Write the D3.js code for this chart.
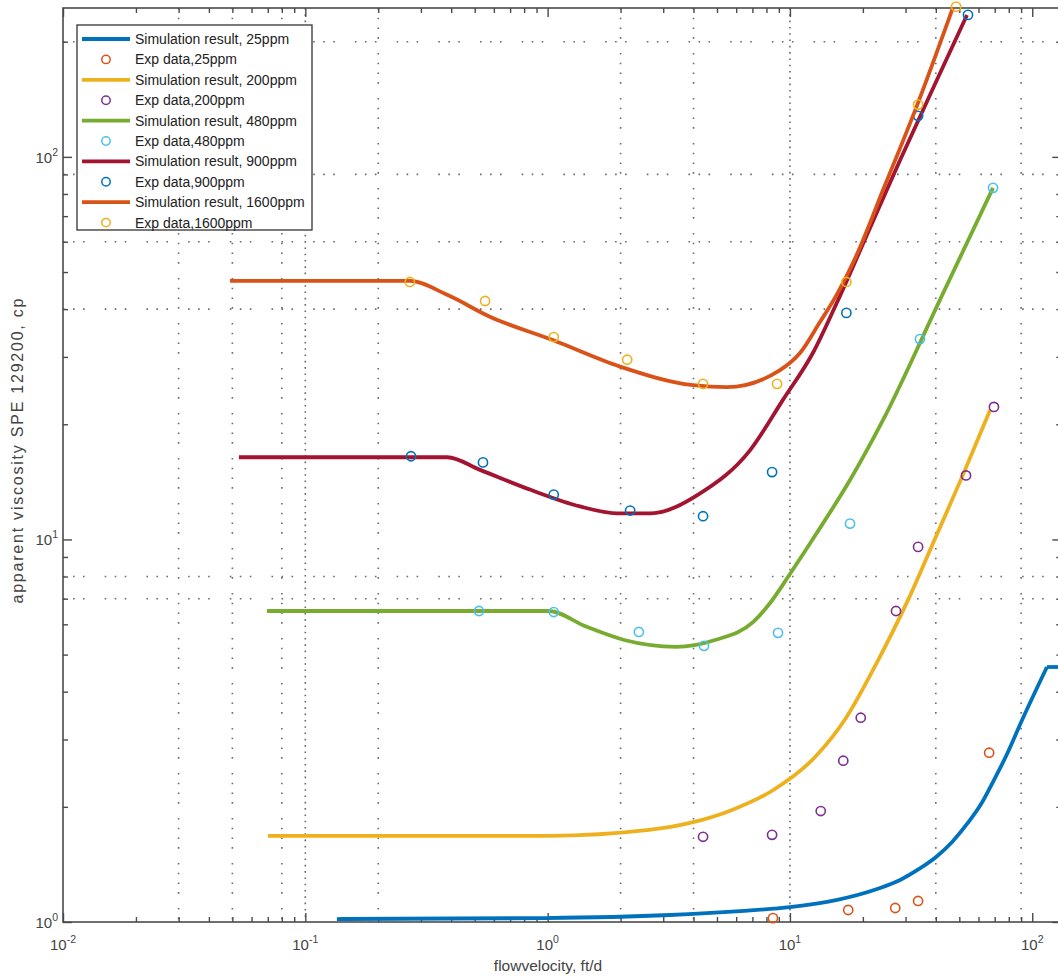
<!DOCTYPE html>
<html>
<head>
<meta charset="utf-8">
<script src="https://cdn.jsdelivr.net/npm/d3@7"></script>
<style>
  body { margin: 0; background: #fff; }
  svg text { font-family: "Liberation Sans", Arial, Helvetica, sans-serif; }
</style>
</head>
<body>
<svg id="chart" width="1058" height="980"></svg>
<script>
// ---- data: [flow velocity ft/d, apparent viscosity cp] ----
const sim25 = [[0.135,1.018],[0.975,1.024],[3.20,1.043],[6.22,1.068],[10,1.094],[15.5,1.141],[22.9,1.220],[28.5,1.288],[34.1,1.376],[40.1,1.479],[46.7,1.619],[53.8,1.804],[61.5,2.034],[69.5,2.350],[78.0,2.716],[90.8,3.373],[115,4.64]];
const sim25Plateau = [[115,4.64],[140,4.64]];
const exp25 = [[8.51,1.024],[17.4,1.075],[27.2,1.088],[33.8,1.135],[66.4,2.77]];

const sim200 = [[0.0701,1.68],[1.01,1.68],[2.62,1.74],[3.87,1.815],[5.77,1.963],[8.51,2.21],[12.7,2.70],[17.0,3.41],[22.9,4.78],[30.7,6.94],[39.0,9.79],[52.8,15.2],[67.0,21.8]];
const exp200 = [[4.38,1.67],[8.44,1.69],[13.4,1.95],[16.6,2.64],[19.6,3.42],[27.4,6.50],[33.8,9.56],[53.3,14.7],[69.5,22.2]];

const sim480 = [[0.0695,6.50],[1.01,6.50],[1.45,5.91],[2.07,5.46],[3.39,5.24],[4.91,5.46],[7.04,6.08],[8.28,6.82],[10.0,8.12],[12.9,10.39],[17.7,14.3],[24.2,20.5],[41.6,42.3],[68.9,83.0]];
const exp480 = [[0.521,6.50],[1.06,6.46],[2.38,5.73],[4.42,5.27],[8.93,5.70],[17.7,11.0],[34.4,33.4],[68.9,83.0]];

const sim900 = [[0.0532,16.4],[0.385,16.4],[0.526,15.2],[0.845,13.5],[1.36,12.2],[1.93,11.7],[2.65,11.7],[4.26,13.2],[6.84,17.1],[9.37,23.2],[12.5,30.9],[15.6,41.5],[21.4,65.2],[28.5,98.1],[39.7,155],[53.8,235]];
const exp900 = [[0.273,16.5],[0.541,15.9],[1.06,13.1],[2.19,11.9],[4.38,11.5],[8.44,15.0],[17.1,39.1],[33.8,128],[54.3,235]];

const sim1600 = [[0.0489,47.4],[0.270,47.4],[0.385,43.6],[0.578,38.2],[1.05,33.2],[1.99,28.3],[3.98,25.3],[5.50,25.0],[9.10,27.7],[11.0,30.7],[13.3,37.0],[15.4,43.0],[18.6,54.4],[24.5,83.4],[33.5,136.6],[47.1,246]];
const exp1600 = [[0.270,47.1],[0.552,42.0],[1.06,33.8],[2.13,29.5],[4.38,25.5],[8.85,25.5],[17.1,47.1],[33.8,137],[48.5,247]];

const concentrations = ["25ppm","200ppm","480ppm","900ppm","1600ppm"];
const lineColors   = ["#0072BD","#EDB120","#77AC30","#A2142F","#D95319"];
const markerColors = ["#D95319","#7E2F8E","#4DBEEE","#0072BD","#EDB120"];

// axis ticks and grid
const xDomain = [0.01, 131.8];
const yDomain = [1, 245];
const xMajorTicks = [0.01, 0.1, 1, 10, 100];
const xTickExponents = ["-2", "-1", "0", "1", "2"];
const yMajorTicks = [1, 10, 100];
const yTickExponents = ["0", "1", "2"];
const gridX = [0.03, 0.05, 0.08, 0.1, 0.2, 2, 4, 10, 40, 90];
const gridXDense = [0.1, 10];
const gridY = [7, 8, 40, 60, 90, 200];

const xTitle = "flowvelocity, ft/d";
const yTitle = "apparent viscosity SPE 129200, cp";

// ---- layout ----
const svg = d3.select("#chart");
const box = { left: 63, right: 1061.3, top: 8, bottom: 922 };
const x = d3.scaleLog().domain(xDomain).range([box.left, box.right]);
const y = d3.scaleLog().domain(yDomain).range([box.bottom, box.top]);
const axisColor = "#4a4a4a";

svg.append("rect").attr("width", 1058).attr("height", 980).attr("fill", "#fff");

// dotted grid
const grid = svg.append("g");
grid.selectAll("line.gx").data(gridX).join("line")
  .attr("class", "gx")
  .attr("x1", d => x(d)).attr("x2", d => x(d))
  .attr("y1", box.top).attr("y2", box.bottom)
  .attr("stroke", "#6a6a6a").attr("stroke-width", 1.6)
  .attr("stroke-dasharray", d => gridXDense.includes(d) ? "1.6 4.7" : "1.6 8.1 1.6 8.1 1.6 8.1 1.6 14.3");
grid.selectAll("line.gy").data(gridY).join("line")
  .attr("class", "gy")
  .attr("y1", d => y(d)).attr("y2", d => y(d))
  .attr("x1", box.left).attr("x2", box.right)
  .attr("stroke", "#6a6a6a").attr("stroke-width", 1.6)
  .attr("stroke-dasharray", "1.6 8.4 1.6 8.4 1.6 20.1");

// ticks on all four sides, pointing inward
const isDecade = v => Math.abs(Math.log10(v) - Math.round(Math.log10(v))) < 1e-9;
const xMinor = x.ticks().filter(v => !isDecade(v));
const yMinor = y.ticks().filter(v => !isDecade(v));

function drawTicks(axisGen, tr, values, size) {
  const g = svg.append("g").attr("transform", tr)
    .call(axisGen.tickValues(values).tickSize(-size).tickFormat(""));
  g.select(".domain").remove();
  g.selectAll(".tick line").attr("stroke", axisColor).attr("stroke-width", 1.4);
}
drawTicks(d3.axisBottom(x), `translate(0,${box.bottom})`, xMinor, 5);
drawTicks(d3.axisBottom(x), `translate(0,${box.bottom})`, xMajorTicks, 9);
drawTicks(d3.axisTop(x), `translate(0,${box.top})`, xMinor, 5);
drawTicks(d3.axisTop(x), `translate(0,${box.top})`, xMajorTicks, 9);
drawTicks(d3.axisLeft(y), `translate(${box.left},0)`, yMinor, 5);
drawTicks(d3.axisLeft(y), `translate(${box.left},0)`, yMajorTicks, 9);
drawTicks(d3.axisRight(y), `translate(${box.right},0)`, yMinor, 5);
drawTicks(d3.axisRight(y), `translate(${box.right},0)`, yMajorTicks, 9);

svg.append("rect")
  .attr("x", box.left).attr("y", box.top)
  .attr("width", box.right - box.left).attr("height", box.bottom - box.top)
  .attr("fill", "none").attr("stroke", axisColor).attr("stroke-width", 1.6);

// power-of-ten tick labels
const xl = svg.selectAll("text.xl").data(xMajorTicks).join("text")
  .attr("class", "xl")
  .attr("x", d => x(d)).attr("y", box.bottom + 28)
  .attr("text-anchor", "middle").attr("fill", "#444");
xl.append("tspan").attr("font-size", 15).text("10");
xl.append("tspan").attr("font-size", 10.5).attr("dy", -7).text((d, i) => xTickExponents[i]);

const yl = svg.selectAll("text.yl").data(yMajorTicks).join("text")
  .attr("class", "yl")
  .attr("x", box.left - 5).attr("y", d => y(d) + 6)
  .attr("text-anchor", "end").attr("fill", "#444");
yl.append("tspan").attr("font-size", 15).text("10");
yl.append("tspan").attr("font-size", 10.5).attr("dy", -7).text((d, i) => yTickExponents[i]);

// axis titles
svg.append("text")
  .attr("x", 548).attr("y", 971)
  .attr("text-anchor", "middle").attr("font-size", 15.5).attr("fill", "#444")
  .text(xTitle);
svg.append("text")
  .attr("transform", "translate(23,451) rotate(-90)")
  .attr("text-anchor", "middle").attr("font-size", 16).attr("fill", "#444")
  .attr("textLength", 305).attr("lengthAdjust", "spacing")
  .text(yTitle);

// ---- series ----
const series = [
  { conc: 0, sim: sim25, exp: exp25, plateau: sim25Plateau },
  { conc: 1, sim: sim200, exp: exp200 },
  { conc: 2, sim: sim480, exp: exp480 },
  { conc: 3, sim: sim900, exp: exp900 },
  { conc: 4, sim: sim1600, exp: exp1600 }
];

const curve = d3.line().x(d => x(d[0])).y(d => y(d[1])).curve(d3.curveMonotoneX);
const straight = d3.line().x(d => x(d[0])).y(d => y(d[1]));

const plotG = svg.append("g");
series.forEach(s => {
  const lc = lineColors[s.conc], mc = markerColors[s.conc];
  plotG.append("path").attr("d", curve(s.sim))
    .attr("fill", "none").attr("stroke", lc).attr("stroke-width", 3.8)
    .attr("stroke-linejoin", "round");
  if (s.plateau) {
    plotG.append("path").attr("d", straight(s.plateau))
      .attr("fill", "none").attr("stroke", lc).attr("stroke-width", 3.8);
  }
  plotG.selectAll(null).data(s.exp).join("circle")
    .attr("cx", d => x(d[0])).attr("cy", d => y(d[1])).attr("r", 4.6)
    .attr("fill", "none").attr("stroke", mc).attr("stroke-width", 1.6);
});

// ---- legend ----
const lg = svg.append("g");
const lgX = 77, lgY = 25, lgW = 235, lgH = 205, rowH = 20.4, row0 = 39;
lg.append("rect").attr("x", lgX).attr("y", lgY).attr("width", lgW).attr("height", lgH)
  .attr("fill", "#fff").attr("stroke", "#333").attr("stroke-width", 1.3);
series.forEach((s, i) => {
  const ly = row0 + 2 * i * rowH, my = ly + rowH;
  lg.append("line").attr("x1", 82).attr("x2", 130).attr("y1", ly).attr("y2", ly)
    .attr("stroke", lineColors[s.conc]).attr("stroke-width", 3.8);
  lg.append("text").attr("x", 135).attr("y", ly + 5).attr("font-size", 14).attr("fill", "#222")
    .text("Simulation result, " + concentrations[s.conc]);
  lg.append("circle").attr("cx", 106).attr("cy", my).attr("r", 4.2)
    .attr("fill", "none").attr("stroke", markerColors[s.conc]).attr("stroke-width", 1.5);
  lg.append("text").attr("x", 135).attr("y", my + 5).attr("font-size", 14).attr("fill", "#222")
    .text("Exp data," + concentrations[s.conc]);
});
</script>
</body>
</html>
